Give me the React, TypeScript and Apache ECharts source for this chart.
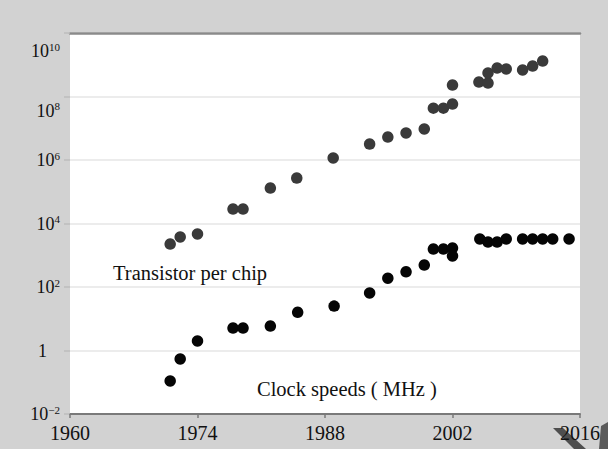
import React, { useEffect, useRef } from "react";
import * as echarts from "echarts";

// Transistors per chip (year, count)
const transistorYears = [1971, 1972.1, 1974, 1977.9, 1979, 1982, 1984.9, 1988.9, 1992.9, 1994.9, 1996.9, 1998.9, 1999.9, 2001, 2002, 2002, 2004.9, 2005.9, 2005.9, 2006.9, 2007.9, 2009.7, 2010.8, 2011.9];
const transistorCounts = [2250, 3760, 4680, 28600, 28600, 131000, 271000, 1.16e6, 3.19e6, 5.3e6, 7.1e6, 9.5e6, 4.3e7, 4.3e7, 5.8e7, 2.3e8, 2.86e8, 2.66e8, 5.5e8, 7.9e8, 7.35e8, 6.85e8, 9.1e8, 1.31e9];

// Clock speeds in MHz (year, MHz)
const clockYears = [1971, 1972.1, 1974, 1977.9, 1979, 1982, 1985, 1989, 1992.9, 1994.9, 1996.9, 1998.9, 1999.9, 2001, 2002, 2002, 2005, 2005.9, 2006.9, 2007.9, 2009.7, 2010.8, 2011.9, 2013, 2014.8];
const clockMHz = [0.11, 0.54, 2, 5.1, 5.1, 5.9, 16, 25, 65, 190, 300, 490, 1570, 1570, 1690, 950, 3250, 2610, 2610, 3250, 3250, 3250, 3250, 3250, 3250];

// Axis ticks
const yearTicks = [1960, 1974, 1988, 2002, 2016];
const yExponents = [-2, 0, 2, 4, 6, 8, 10];

const seriesLabels = ["Transistor per chip", "Clock speeds ( MHz )"];

const SERIF = "'Liberation Serif', 'Times New Roman', serif";

export default function App() {
  const ref = useRef<HTMLDivElement>(null);
  useEffect(() => {
    if (!ref.current) return;
    const chart = echarts.init(ref.current, null, { renderer: "svg" });
    const xMin = yearTicks[0];
    const xMax = yearTicks[yearTicks.length - 1];
    const xInt = yearTicks[1] - yearTicks[0];
    const yMin = Math.pow(10, yExponents[0]);
    const yMax = Math.pow(10, yExponents[yExponents.length - 1]);

    const option: any = {
      animation: false,
      backgroundColor: "#d2d2d2",
      grid: {
        left: 70,
        right: 28,
        top: 33,
        bottom: 35,
        show: true,
        backgroundColor: "#ffffff",
        borderWidth: 0,
      },
      xAxis: [
        {
          type: "value",
          min: xMin,
          max: xMax,
          interval: xInt,
          axisLine: { show: true, lineStyle: { color: "#7a7a7a", width: 2 } },
          axisTick: { show: true, length: 4, lineStyle: { color: "#7a7a7a", width: 1.5 } },
          splitLine: { show: false },
          axisLabel: {
            margin: 9,
            color: "#111",
            fontFamily: SERIF,
            fontSize: 20,
            showMinLabel: true,
            showMaxLabel: true,
            formatter: (v: number) => String(Math.round(v)),
          },
        },
        {
          type: "value",
          position: "top",
          min: xMin,
          max: xMax,
          interval: xInt,
          axisLine: { show: true, lineStyle: { color: "#8a8a8a", width: 2.5 } },
          axisTick: { show: false },
          axisLabel: { show: false },
          splitLine: { show: false },
        },
      ],
      yAxis: {
        type: "log",
        logBase: 10,
        min: yMin,
        max: yMax,
        interval: 2,
        axisLine: { show: false },
        axisTick: { show: true, length: 6, lineStyle: { color: "#bdbdbd", width: 1.5 } },
        splitLine: { show: true, lineStyle: { color: "#ececec", width: 2 } },
        minorTick: { show: false },
        axisLabel: {
          margin: 10,
          color: "#111",
          fontFamily: SERIF,
          showMinLabel: true,
          showMaxLabel: true,
          lineHeight: 20,
          formatter: (v: number) => {
            const e = Math.round(Math.log10(v));
            if (e === 0) return "{one|1}";
            const sup = e < 0 ? "\u2212" + Math.abs(e) : String(e);
            const core = "{b|10}{s|" + sup + "}";
            if (e === 10) return "{gapL| }\n" + core;
            if (e === 8) return "{gap| }\n" + core;
            return core;
          },
          rich: {
            b: { fontFamily: SERIF, fontSize: 18, color: "#111", lineHeight: 20 },
            s: { fontFamily: SERIF, fontSize: 11, color: "#111", lineHeight: 10, verticalAlign: "top" },
            one: { fontFamily: SERIF, fontSize: 18, color: "#111", lineHeight: 20, padding: [0, 13, 0, 0] },
            gap: { fontSize: 2, lineHeight: 28 },
            gapL: { fontSize: 2, lineHeight: 36 },
          },
        },
      },
      series: [
        {
          name: seriesLabels[0],
          type: "scatter",
          symbol: "circle",
          symbolSize: 11.5,
          itemStyle: { color: "#3a3a3a", opacity: 1 },
          data: transistorYears.map((y, i) => [y, transistorCounts[i]]),
        },
        {
          name: seriesLabels[1],
          type: "scatter",
          symbol: "circle",
          symbolSize: 11.5,
          itemStyle: { color: "#050505", opacity: 1 },
          data: clockYears.map((y, i) => [y, clockMHz[i]]),
        },
      ],
      graphic: [
        {
          type: "text",
          left: 113,
          top: 262,
          style: { text: seriesLabels[0], font: "20.5px " + SERIF, fill: "#111" },
        },
        {
          type: "text",
          left: 257,
          top: 378,
          style: { text: seriesLabels[1], font: "20.5px " + SERIF, fill: "#111" },
        },
        {
          type: "polygon",
          z: -1,
          shape: { points: [[553, 428], [563, 428], [586, 449], [574, 449]] },
          style: { fill: "#4e4e4e" },
        },
        {
          type: "polygon",
          z: -1,
          shape: { points: [[601, 426], [608, 422], [608, 449], [599, 449]] },
          style: { fill: "#5a5a5a" },
        },
      ],
    };
    chart.setOption(option);
    return () => chart.dispose();
  }, []);
  return (
    <div
      ref={ref}
      style={{ position: "fixed", left: 0, top: 0, width: 608, height: 449 }}
    />
  );
}
